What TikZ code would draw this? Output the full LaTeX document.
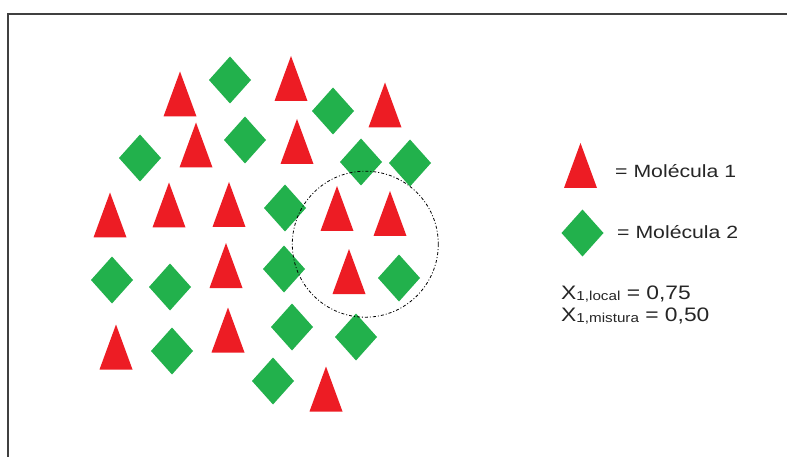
\documentclass[tikz,border=0pt]{standalone}
\usepackage{fontspec}
\setmainfont{Liberation Sans}
\definecolor{molred}{HTML}{ED1C24}
\definecolor{molgreen}{HTML}{22B14C}
\definecolor{txt}{HTML}{262626}
\begin{document}
\begin{tikzpicture}[x=1pt,y=-1pt,
  tri/.pic={\fill[molred] (-16.5,22.5) -- (0,-22.5) -- (16.5,22.5) -- cycle;},
  dia/.pic={\fill[molgreen] (0,-23.5) -- (21,0) -- (0,23.5) -- (-21,0) -- cycle;},
  legtext/.style={anchor=base west, inner sep=0pt, text=txt, xscale=1.2,
    font=\fontsize{17.7}{20}\selectfont},
  xtext/.style={anchor=base west, inner sep=0pt, text=txt, xscale=1.17,
    font=\fontsize{19.5}{22}\selectfont},
  frame/.style={draw=black!75, line width=1.1pt},
  localcirc/.style={draw=black, line width=0.8pt, dash pattern=on 3pt off 2pt on 1pt off 2pt}
]
\useasboundingbox (0,0) rectangle (787,457);
\fill[white] (0,0) rectangle (787,457);
\draw[frame] (8,470) -- (8,14) -- (800,14);

% Molecule 1 (triangles)
\foreach \x/\y in {180/94, 291/78.5, 385/105, 196/145, 297/141.5,
                   110/215, 169/205, 229/204.5, 337/208.5, 390/213.5,
                   226/265.5, 349/271.5, 116/347, 228/330, 326/389}
  \pic at (\x,\y) {tri};

% Molecule 2 (diamonds)
\foreach \x/\y in {230/80, 333/111, 140/158, 245/140, 361/162, 410/163,
                   285/208, 112/280, 170/287, 284/269, 399/278,
                   292/327, 172/351, 356/337, 273/381}
  \pic at (\x,\y) {dia};

% local neighbourhood
\draw[localcirc] (365.3,244.2) circle [radius=73];

% legend
\pic at (580.5,165.5) {tri};
\pic at (582.5,233) {dia};
\node[legtext] (l1) at (615,177.7) {= Molécula 1};
\node[legtext] (l2) at (617,238.3) {= Molécula 2};
\node[xtext] (x1) at (561,299) {X\raisebox{-1pt}{\fontsize{13}{13}\selectfont 1,local} = 0,75};
\node[xtext] (x2) at (561,321.7) {X\raisebox{-1pt}{\fontsize{13}{13}\selectfont 1,mistura} = 0,50};
\end{tikzpicture}
\end{document}
